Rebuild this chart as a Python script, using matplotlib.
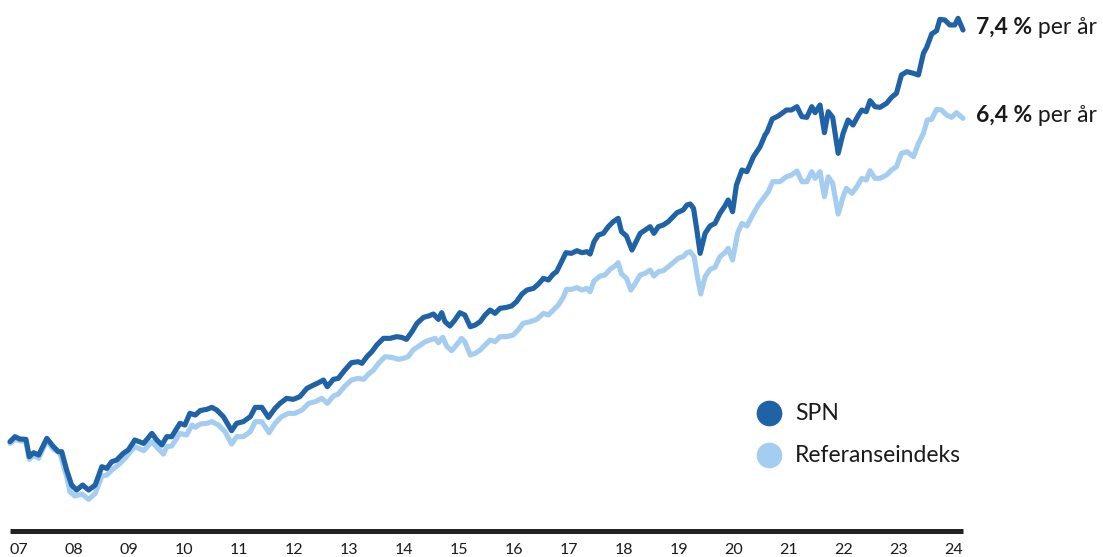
import matplotlib
matplotlib.use("Agg")
import matplotlib.pyplot as plt

plt.rcParams['font.family'] = ['Lato', 'DejaVu Sans']

# ---- data (index, start = 100) ----
spn_t = [2007.68, 2007.77, 2007.86, 2007.97, 2008.03, 2008.11, 2008.20, 2008.35, 2008.47, 2008.56,
         2008.62, 2008.71, 2008.80, 2008.89, 2009.00, 2009.11, 2009.23, 2009.35, 2009.44, 2009.53,
         2009.62, 2009.74, 2009.83, 2009.95, 2010.11, 2010.26, 2010.35, 2010.44, 2010.53, 2010.62,
         2010.77, 2010.86, 2010.95, 2011.05, 2011.14, 2011.26, 2011.35, 2011.44, 2011.56, 2011.71,
         2011.80, 2011.92, 2012.05, 2012.14, 2012.26, 2012.38, 2012.50, 2012.59, 2012.71, 2012.83,
         2012.95, 2013.08, 2013.20, 2013.29, 2013.38, 2013.45, 2013.56, 2013.65, 2013.77, 2013.89,
         2014.01, 2014.08, 2014.17, 2014.26, 2014.35, 2014.47, 2014.59, 2014.71, 2014.80, 2014.89,
         2014.99, 2015.08, 2015.20, 2015.29, 2015.38, 2015.47, 2015.53, 2015.59, 2015.68, 2015.77,
         2015.86, 2015.95, 2016.05, 2016.14, 2016.23, 2016.32, 2016.41, 2016.50, 2016.59, 2016.71,
         2016.80, 2016.89, 2016.99, 2017.08, 2017.20, 2017.29, 2017.38, 2017.47, 2017.56, 2017.62,
         2017.71, 2017.79, 2017.89, 2017.99, 2018.08, 2018.17, 2018.23, 2018.30, 2018.38, 2018.47,
         2018.56, 2018.65, 2018.74, 2018.80, 2018.89, 2018.99, 2019.08, 2019.14, 2019.23, 2019.32,
         2019.39, 2019.47, 2019.56, 2019.65, 2019.74, 2019.81, 2019.92, 2019.99, 2020.05, 2020.11,
         2020.17, 2020.23, 2020.32, 2020.41, 2020.50, 2020.59, 2020.68, 2020.74, 2020.82, 2020.89,
         2020.99, 2021.08, 2021.20, 2021.32, 2021.41, 2021.45, 2021.54, 2021.65, 2021.80, 2021.89,
         2021.99, 2022.08, 2022.17, 2022.26, 2022.32, 2022.41, 2022.49, 2022.56, 2022.64, 2022.74,
         2022.83, 2022.92, 2023.01, 2023.11, 2023.17, 2023.25, 2023.32, 2023.41, 2023.50, 2023.62,
         2023.71, 2023.80, 2023.89, 2023.99, 2024.11, 2024.20, 2024.29, 2024.35, 2024.44, 2024.53,
         2024.59, 2024.68, 2024.77, 2024.86, 2024.92, 2025.01]
spn_v = [100.2, 103.2, 101.8, 101.6, 91.2, 93.6, 92.2, 102.2, 97.2, 94.2,
         94.2, 83.2, 74.2, 71.2, 74.2, 71.2, 74.2, 85.2, 84.2, 88.2,
         89.2, 93.2, 95.2, 101.2, 99.2, 105.2, 101.2, 98.2, 103.2, 103.2,
         111.2, 110.2, 117.2, 116.2, 118.9, 119.6, 120.8, 119.2, 115.2, 106.8,
         111.2, 112.2, 115.2, 120.8, 120.8, 114.8, 120.2, 123.2, 126.2, 125.6,
         127.2, 132.2, 134.2, 135.6, 137.2, 133.2, 137.6, 138.2, 143.2, 147.6,
         148.2, 147.2, 151.2, 154.2, 158.2, 162.2, 162.2, 163.2, 162.8, 161.6,
         166.2, 171.2, 174.8, 175.6, 176.8, 173.6, 177.6, 172.2, 169.6, 173.2,
         177.6, 176.2, 169.2, 170.2, 172.2, 176.2, 179.2, 177.2, 180.2, 180.8,
         181.6, 184.2, 188.8, 191.2, 192.2, 194.8, 198.2, 197.2, 200.8, 202.2,
         208.2, 213.6, 213.2, 214.8, 213.6, 214.2, 212.8, 220.2, 224.2, 225.2,
         229.2, 232.2, 234.2, 226.2, 223.6, 215.2, 221.2, 225.2, 227.2, 229.2,
         225.2, 229.2, 230.2, 232.2, 235.2, 237.6, 239.2, 242.2, 242.8, 240.2,
         227.2, 213.2, 225.2, 229.6, 231.2, 237.2, 241.6, 245.2, 238.2, 254.2,
         263.2, 262.2, 271.2, 277.2, 284.2, 286.2, 293.8, 295.6, 299.2, 299.2,
         301.2, 295.2, 294.8, 301.2, 297.6, 302.2, 285.6, 298.2, 294.8, 273.2,
         285.2, 293.2, 290.2, 296.2, 299.2, 298.2, 304.8, 301.2, 300.8, 303.2,
         306.8, 309.2, 320.2, 322.2, 321.2, 320.2, 333.2, 336.8, 344.8, 346.8,
         353.6, 353.2, 350.2, 350.2, 354.2, 347.2]

ref_t = [2007.68, 2007.77, 2007.86, 2007.97, 2008.03, 2008.11, 2008.20, 2008.35, 2008.47, 2008.59,
         2008.71, 2008.77, 2008.86, 2008.99, 2009.11, 2009.23, 2009.35, 2009.44, 2009.53, 2009.65,
         2009.77, 2009.95, 2010.11, 2010.26, 2010.35, 2010.47, 2010.53, 2010.62, 2010.77, 2010.89,
         2010.99, 2011.05, 2011.14, 2011.26, 2011.35, 2011.47, 2011.59, 2011.71, 2011.80, 2011.92,
         2012.05, 2012.14, 2012.26, 2012.39, 2012.50, 2012.62, 2012.74, 2012.86, 2012.99, 2013.11,
         2013.23, 2013.35, 2013.45, 2013.56, 2013.65, 2013.77, 2013.89, 2014.01, 2014.11, 2014.20,
         2014.29, 2014.38, 2014.50, 2014.62, 2014.74, 2014.83, 2014.92, 2015.01, 2015.14, 2015.23,
         2015.32, 2015.41, 2015.47, 2015.55, 2015.62, 2015.71, 2015.80, 2015.89, 2015.95, 2016.05,
         2016.14, 2016.23, 2016.32, 2016.41, 2016.50, 2016.59, 2016.71, 2016.83, 2016.92, 2017.01,
         2017.14, 2017.26, 2017.38, 2017.47, 2017.56, 2017.65, 2017.74, 2017.80, 2017.89, 2017.99,
         2018.08, 2018.17, 2018.23, 2018.30, 2018.41, 2018.50, 2018.59, 2018.68, 2018.74, 2018.80,
         2018.89, 2018.97, 2019.05, 2019.14, 2019.23, 2019.32, 2019.39, 2019.47, 2019.56, 2019.65,
         2019.74, 2019.83, 2019.92, 2019.99, 2020.05, 2020.12, 2020.18, 2020.24, 2020.32, 2020.41,
         2020.50, 2020.59, 2020.68, 2020.74, 2020.82, 2020.91, 2020.99, 2021.08, 2021.20, 2021.29,
         2021.38, 2021.47, 2021.55, 2021.68, 2021.80, 2021.89, 2021.99, 2022.08, 2022.17, 2022.26,
         2022.32, 2022.41, 2022.49, 2022.56, 2022.64, 2022.74, 2022.83, 2022.89, 2022.99, 2023.08,
         2023.17, 2023.25, 2023.32, 2023.41, 2023.50, 2023.62, 2023.71, 2023.80, 2023.89, 2023.99,
         2024.11, 2024.20, 2024.29, 2024.36, 2024.44, 2024.53, 2024.62, 2024.71, 2024.80, 2024.89,
         2025.01]
ref_v = [99.2, 101.6, 100.8, 100.2, 89.6, 92.2, 90.2, 100.8, 95.6, 93.2,
         79.2, 70.2, 67.6, 68.8, 65.6, 69.2, 79.6, 80.2, 83.2, 86.2,
         90.2, 97.2, 94.8, 100.2, 96.8, 92.8, 97.2, 97.6, 105.2, 104.2,
         110.2, 108.8, 110.8, 111.2, 112.2, 110.2, 106.2, 98.8, 103.2, 103.2,
         106.2, 112.2, 112.2, 105.6, 111.2, 115.2, 117.2, 117.2, 119.2, 123.2,
         124.2, 126.2, 123.2, 127.6, 128.8, 133.6, 137.2, 138.2, 137.6, 140.8,
         143.2, 147.2, 151.2, 150.8, 149.6, 150.2, 151.2, 155.2, 158.2, 160.2,
         161.2, 162.2, 159.6, 162.8, 157.6, 154.8, 158.2, 162.2, 160.2, 152.2,
         153.2, 155.2, 158.2, 161.2, 160.2, 163.2, 163.2, 164.2, 167.2, 171.2,
         172.2, 173.6, 177.2, 176.2, 179.2, 182.2, 186.8, 191.6, 191.6, 192.6,
         191.2, 192.2, 190.2, 196.6, 199.6, 200.2, 203.6, 205.6, 207.6, 200.8,
         198.2, 191.2, 195.2, 200.2, 201.2, 203.2, 199.6, 202.2, 202.8, 205.2,
         207.6, 210.2, 211.2, 213.6, 214.2, 211.2, 199.2, 188.8, 199.2, 203.6,
         204.8, 211.2, 213.6, 216.2, 209.2, 225.2, 231.2, 229.6, 237.2, 242.2,
         246.2, 250.2, 256.2, 256.2, 259.2, 260.2, 262.6, 256.2, 256.2, 262.2,
         258.2, 262.2, 247.2, 259.2, 255.2, 236.8, 247.2, 252.2, 249.2, 253.2,
         258.2, 257.2, 262.8, 258.2, 258.2, 260.2, 263.2, 265.2, 273.2, 274.2,
         271.2, 279.2, 285.2, 293.2, 293.6, 299.6, 299.2, 296.2, 294.8, 297.6,
         294.2]

year_labels = ['07', '08', '09', '10', '11', '12', '13', '14', '15', '16',
               '17', '18', '19', '20', '21', '22', '23', '24']
series_names = ['SPN', 'Referanseindeks']
annual_return = ['7,4 %', '6,4 %']

# ---- style ----
DARK = '#1f62a5'
LIGHT = '#a5cdf0'
TXT = '#1a1a1a'
W, H = 1103, 557

fig = plt.figure(figsize=(W / 100, H / 100), dpi=100)
ax = fig.add_axes([10 / W, (H - 530.7) / H, 953 / W, (530.7 - 10) / H])

ax.plot(ref_t, ref_v, color=LIGHT, lw=3.7, solid_joinstyle='round',
        solid_capstyle='round', clip_on=False, zorder=2)
ax.plot(spn_t, spn_v, color=DARK, lw=3.7, solid_joinstyle='round',
        solid_capstyle='round', clip_on=False, zorder=3)

ax.set_xlim(2007.68, 2025.01)
ax.set_ylim(46.8, 359.2)

for s in ['top', 'right', 'left']:
    ax.spines[s].set_visible(False)
ax.spines['bottom'].set_linewidth(3.6)
ax.spines['bottom'].set_color('#222222')
ax.spines['bottom'].set_capstyle('butt')
ax.set_yticks([])
ax.set_xticks([2007.845 + i for i in range(len(year_labels))])
ax.set_xticklabels(year_labels)
ax.tick_params(axis='x', length=0, pad=9, labelsize=11.5, labelcolor=TXT)

# ---- end labels ----
fig.canvas.draw()
r = fig.canvas.get_renderer()
end_info = [(spn_v[-1], 27.7), (ref_v[-1], 115.3)]
for (val, ypix), lab in zip(end_info, annual_return):
    yf = 1 - ypix / H
    t1 = fig.text(976 / W, yf, lab, fontsize=16.5, fontweight='bold',
                  color=TXT, va='center', ha='left')
    bb = t1.get_window_extent(renderer=r)
    fig.text(bb.x1 / W, yf, ' per år', fontsize=16.5,
             color=TXT, va='center', ha='left')

# ---- legend ----
for name, col, ypix in zip(series_names, [DARK, LIGHT], [413.3, 455.0]):
    fig.lines.append(plt.Line2D([768.8 / W], [1 - ypix / H], marker='o',
                                markersize=18.5, color=col, markeredgewidth=0,
                                transform=fig.transFigure))
    fig.text(795 / W, 1 - ypix / H, name, fontsize=16.5, color=TXT,
             va='center', ha='left')

fig.savefig('out.png', dpi=100)
